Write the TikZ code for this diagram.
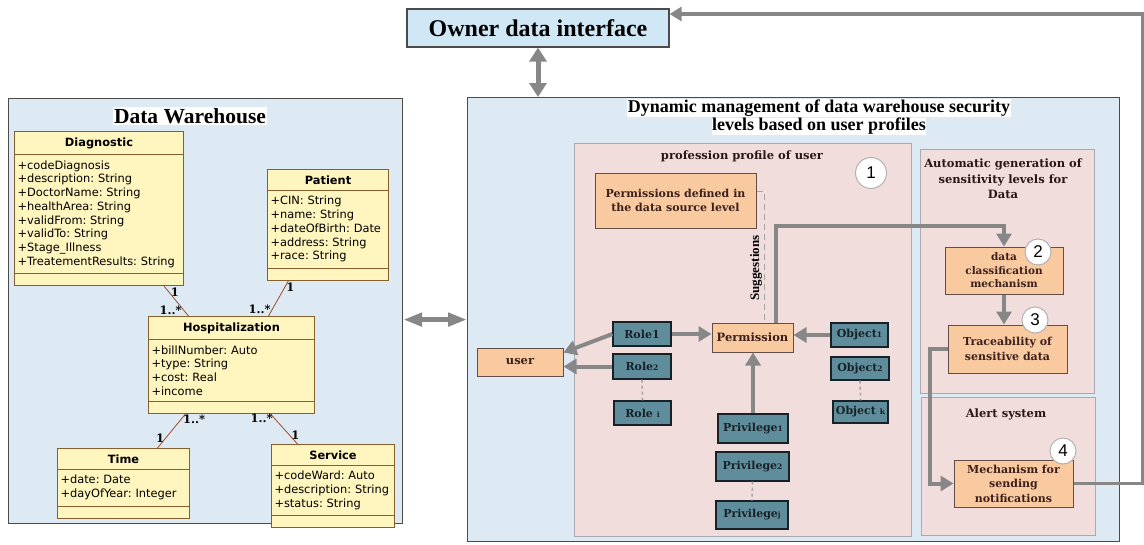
\documentclass[tikz,border=0pt]{standalone}
\usepackage{fontspec}
\setmainfont{Liberation Serif}
\newfontfamily\umlfont{DejaVu Sans}
\newfontfamily\boxfont{DejaVu Serif}
\newfontfamily\numfont{Liberation Sans}
\usetikzlibrary{arrows.meta,shapes.multipart}
\definecolor{panelblue}{RGB}{221,234,244}
\definecolor{ownerblue}{RGB}{208,231,245}
\definecolor{panelpink}{RGB}{242,221,221}
\definecolor{boxorange}{RGB}{249,201,160}
\definecolor{boxteal}{RGB}{96,141,155}
\definecolor{umlyellow}{RGB}{255,245,190}
\definecolor{umledge}{RGB}{135,95,45}
\definecolor{arrowgray}{RGB}{135,135,135}
\definecolor{framegray}{RGB}{75,75,75}
\definecolor{pinkedge}{RGB}{170,168,178}
\definecolor{inkbrown}{RGB}{60,32,28}
\definecolor{inkteal}{RGB}{22,34,40}
\newcommand{\smidx}[1]{{\fontsize{7.5}{7.5}\selectfont #1}}
\begin{document}
\begin{tikzpicture}[x=1pt,y=-1pt,
  frame/.style={draw=framegray,fill=panelblue,line width=1.2pt,inner sep=0pt,anchor=north west},
  pinkpanel/.style={draw=pinkedge,fill=panelpink,line width=1.2pt,inner sep=0pt,anchor=north west},
  umlclass/.style={rectangle split,rectangle split parts=3,rectangle split empty part height=0pt,
    draw=umledge,fill=umlyellow,line width=1pt,anchor=north west,inner xsep=3pt,inner ysep=5.5pt,
    font=\umlfont\fontsize{11.4}{13.7}\selectfont\frenchspacing,align=left},
  assoc/.style={draw=umledge!80!red,line width=0.8pt},
  mult/.style={font=\boxfont\bfseries\fontsize{11.5}{11.5}\selectfont,inner sep=1.5pt},
  orangebox/.style={draw=inkbrown!80,fill=boxorange,line width=1pt,inner sep=0pt,align=center,
    text=inkbrown,font=\boxfont\bfseries\fontsize{11}{14}\selectfont},
  tealbox/.style={draw=inkteal,fill=boxteal,line width=1.2pt,inner sep=0pt,
    text=inkteal,font=\boxfont\bfseries\fontsize{11}{12}\selectfont},
  panelhead/.style={align=center,text=inkbrown!70!black,font=\boxfont\bfseries\fontsize{11.5}{15.5}\selectfont},
  numcircle/.style={circle,draw=gray!60,fill=white,line width=1pt,inner sep=0pt,font=\numfont\fontsize{17}{17}\selectfont},
  flow/.style={draw=arrowgray,line width=4pt,-{Triangle[length=13pt,width=15pt]}},
  feedback/.style={draw=arrowgray,line width=3.5pt,-{Triangle[length=12pt,width=14pt]}},
  dots/.style={draw=gray!70,line width=1.6pt,dash pattern=on 3pt off 3pt},
  suggest/.style={draw=gray!70,line width=1.2pt,dash pattern=on 6pt off 4pt}]
\useasboundingbox (0,0) rectangle (1144,544);
\node[frame,minimum width=394pt,minimum height=425pt] (dw) at (8,98) {};
\node[fill=white,inner sep=1pt,font=\bfseries\fontsize{21.5}{21.5}\selectfont] (dwtitle) at (190,116) {Data Warehouse};
\node[umlclass,text width=163pt] (diag) at (14,131) {\hbox to\hsize{\hss\bfseries Diagnostic\hss}
  \nodepart{two}+codeDiagnosis\\+description: String\\+DoctorName: String\\+healthArea: String\\+validFrom: String\\+validTo: String\\+Stage\_Illness\\+TreatementResults: String
  \nodepart{three}};
\node[umlclass,text width=115pt] (pat) at (267,169) {\hbox to\hsize{\hss\bfseries Patient\hss}
  \nodepart{two}+CIN: String\\+name: String\\+dateOfBirth: Date\\+address: String\\+race: String
  \nodepart{three}};
\node[umlclass,text width=160pt] (hosp) at (148,316) {\hbox to\hsize{\hss\bfseries Hospitalization\hss}
  \nodepart{two}+billNumber: Auto\\+type: String\\+cost: Real\\+income
  \nodepart{three}};
\node[umlclass,text width=126pt] (time) at (57,448) {\hbox to\hsize{\hss\bfseries Time\hss}
  \nodepart{two}+date: Date\\+dayOfYear: Integer
  \nodepart{three}};
\node[umlclass,text width=117pt] (serv) at (271,444) {\hbox to\hsize{\hss\bfseries Service\hss}
  \nodepart{two}+codeWard: Auto\\+description: String\\+status: String
  \nodepart{three}};
\draw[assoc] ([xshift=-20pt]diag.south east) -- node[mult,pos=0.2,anchor=west]{1} node[mult,pos=0.8,anchor=east]{1..*} ([xshift=-43pt]hosp.north);
\draw[assoc] ([xshift=-39.5pt]pat.south) -- node[mult,pos=0.2,anchor=west]{1} node[mult,pos=0.8,anchor=east]{1..*} ([xshift=37pt]hosp.north);
\draw[assoc] ([xshift=-46pt]hosp.south) -- node[mult,pos=0.15,anchor=west]{1..*} node[mult,pos=0.7,anchor=east]{1} ([xshift=34pt]time.north);
\draw[assoc] ([xshift=39pt]hosp.south) -- node[mult,pos=0.15,anchor=east]{1..*} node[mult,pos=0.7,anchor=west]{1} ([xshift=-35.5pt]serv.north);
\node[draw=framegray,fill=ownerblue,line width=1.2pt,minimum width=262pt,minimum height=38pt,inner sep=0pt,font=\bfseries\fontsize{24}{24}\selectfont] (owner) at (538,28) {Owner data interface};
\node[frame,minimum width=652pt,minimum height=444pt] (dyn) at (467,97) {};
\node[align=center,font=\bfseries\fontsize{18}{18.5}\selectfont,inner sep=0pt] (dyntitle) at (819,117) {\fboxsep=0.5pt\colorbox{white}{Dynamic management of data warehouse security}\\\fboxsep=0.5pt\colorbox{white}{levels based on user profiles}};
\node[pinkpanel,minimum width=337pt,minimum height=393pt] (profile) at (574,143) {};
\node[pinkpanel,minimum width=174pt,minimum height=244pt] (autogen) at (920,149) {};
\node[pinkpanel,minimum width=174pt,minimum height=138pt] (alert) at (921,397) {};
\node[panelhead] (proftitle) at (742,156) {profession profile of user};
\node[panelhead] (autotitle) at (1003,179) {Automatic generation of\\sensitivity levels for\\Data};
\node[panelhead] (alerttitle) at (1006,414) {Alert system};
\node[orangebox,minimum width=161pt,minimum height=55pt] (permdef) at (675.5,200.5) {Permissions defined in\\the data source level};
\node[orangebox,minimum width=81pt,minimum height=29pt,font=\boxfont\bfseries\fontsize{11.5}{12}\selectfont] (perm) at (752.5,337.5) {Permission};
\node[orangebox,minimum width=86pt,minimum height=28pt,font=\boxfont\bfseries\fontsize{11.5}{12}\selectfont] (user) at (520,362) {user};
\node[orangebox,minimum width=118pt,minimum height=47pt,font=\boxfont\bfseries\fontsize{10.5}{13.5}\selectfont] (classif) at (1004,270.5) {data\\classification\\mechanism};
\node[orangebox,minimum width=119pt,minimum height=48pt,font=\boxfont\bfseries\fontsize{11}{15}\selectfont] (trace) at (1007.5,349) {Traceability of\\sensitive data};
\node[orangebox,minimum width=119pt,minimum height=47pt,font=\boxfont\bfseries\fontsize{11}{14.5}\selectfont] (mech) at (1013.5,483.5) {Mechanism for\\sending\\notifications};
\node[tealbox,minimum width=58pt,minimum height=24pt] (role1) at (642,334) {Role1};
\node[tealbox,minimum width=58pt,minimum height=25pt] (role2) at (642,366.5) {Role\smidx{2}};
\node[tealbox,minimum width=57pt,minimum height=24pt] (rolei) at (642.5,413) {Role \smidx{i}};
\node[tealbox,minimum width=57pt,minimum height=24pt] (obj1) at (859.5,335) {Object\smidx{1}};
\node[tealbox,minimum width=58pt,minimum height=23pt] (obj2) at (860,368.5) {Object\smidx{2}};
\node[tealbox,minimum width=55pt,minimum height=22pt] (objk) at (860.5,412) {Object \smidx{k}};
\node[tealbox,minimum width=70pt,minimum height=29pt] (priv1) at (753,428.5) {Privilege\smidx{1}};
\node[tealbox,minimum width=73pt,minimum height=29pt] (priv2) at (752.5,466.5) {Privilege\smidx{2}};
\node[tealbox,minimum width=72pt,minimum height=28pt] (privj) at (752,515) {Privilege\smidx{j}};
\node[font=\bfseries\fontsize{13}{13}\selectfont,rotate=90,inner sep=0pt] (sugg) at (756,268) {Suggestions};
\node[numcircle,minimum size=31pt] (one) at (871,173) {1};
\node[numcircle,minimum size=26pt] (two) at (1038,252) {2};
\node[numcircle,minimum size=26pt] (three) at (1035,320) {3};
\node[numcircle,minimum size=26pt] (four) at (1063,451) {4};
\draw[suggest] ([yshift=9pt]permdef.east) -| ([xshift=12pt]perm.north);
\draw[flow] (role1.west) -- ([yshift=-5pt]user.north east);
\draw[flow] (role2.west) -- (role2.west -| user.east);
\draw[flow] (role1.east) -- (role1.east -| perm.west);
\draw[flow] (obj1.west) -- (obj1.west -| perm.east);
\draw[flow] (priv1.north) -- (priv1.north |- perm.south);
\draw[dots] (role2.south) -- (rolei.north);
\draw[dots] (obj2.south) -- (objk.north);
\draw[dots] (priv2.south) -- (privj.north);
\draw[flow] ([xshift=23pt]perm.north) |- ([yshift=21pt]classif.north) -- (classif.north);
\draw[flow] (classif.south) -- (classif.south |- trace.north);
\draw[flow] (trace.west) -- ++(-18,0) |- (mech.west);
\draw[feedback] (mech.east) -- ++(69,0) |- ([yshift=14pt]owner.east);
\draw[draw=arrowgray,line width=5pt,{Triangle[length=14pt,width=17pt]}-{Triangle[length=14pt,width=17pt]}] (owner.south) -- (dyn.north -| owner.south);
\draw[draw=arrowgray,line width=5pt,{Triangle[length=19pt,width=13pt]}-{Triangle[length=19pt,width=13pt]}] (dyn.west -| dw.east) -- (dyn.west);
\end{tikzpicture}
\end{document}
